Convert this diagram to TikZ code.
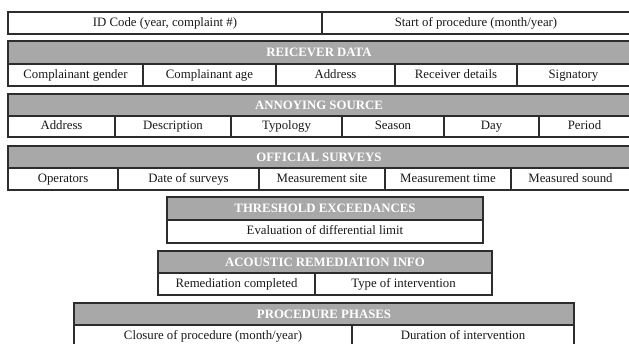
\documentclass[tikz,border=0pt]{standalone}
\usepackage{fontspec}
\setmainfont{Liberation Serif}
\usepackage{tikz}
\usetikzlibrary{positioning}
\definecolor{hdrGray}{RGB}{168, 168, 168}
\definecolor{lineDark}{RGB}{45, 45, 45}
\definecolor{txtDark}{RGB}{25, 25, 25}

\begin{document}
\begin{tikzpicture}[x=1pt, y=-1pt,
    hdr/.style={draw=lineDark, line width=1.1pt, fill=hdrGray, text=white, inner sep=0pt,
      text height=8.6pt, text depth=0pt,
      font=\fontsize{12.8}{12.8}\selectfont\bfseries, minimum height=22pt},
    cell/.style={draw=lineDark, line width=1.1pt, fill=white, text=txtDark, inner sep=0pt,
      text height=9pt, text depth=3pt,
      font=\fontsize{12.8}{12.8}\selectfont, minimum height=22pt}]
      \useasboundingbox (0,0) rectangle (629,343);

      % top line
      \node[cell, minimum width=314pt] (idcode) at (165,23) {ID Code (year, complaint \#)};
      \node[cell, minimum width=308pt] (start) at (476,23) {Start of procedure (month/year)};

      % receiver
      \node[hdr, minimum width=622pt, minimum height=23pt] (recHdr) at (319,52.5) {REICEVER DATA};
      \node[cell, minimum width=135pt] (recGender) at (75.5,75) {Complainant gender};
      \node[cell, minimum width=133pt] (recAge) at (209.5,75) {Complainant age};
      \node[cell, minimum width=119pt] (recAddr) at (335.5,75) {Address};
      \node[cell, minimum width=122pt] (recDet) at (456,75) {Receiver details};
      \node[cell, minimum width=113pt] (recSign) at (573.5,75) {Signatory};

      % source
      \node[hdr, minimum width=622pt] (srcHdr) at (319,105) {ANNOYING SOURCE};
      \node[cell, minimum width=107pt, minimum height=21pt] (srcAddr) at (61.5,126.5) {Address};
      \node[cell, minimum width=116pt, minimum height=21pt] (srcDesc) at (173,126.5) {Description};
      \node[cell, minimum width=111pt, minimum height=21pt] (srcTyp) at (286.5,126.5) {Typology};
      \node[cell, minimum width=102pt, minimum height=21pt] (srcSeas) at (393,126.5) {Season};
      \node[cell, minimum width=95pt, minimum height=21pt] (srcDay) at (491.5,126.5) {Day};
      \node[cell, minimum width=91pt, minimum height=21pt] (srcPer) at (584.5,126.5) {Period};

      % surveys
      \node[hdr, minimum width=622pt] (survHdr) at (319,157) {OFFICIAL SURVEYS};
      \node[cell, minimum width=110pt] (survOp) at (63,179) {Operators};
      \node[cell, minimum width=141pt] (survDate) at (188.5,179) {Date of surveys};
      \node[cell, minimum width=126pt] (survSite) at (322,179) {Measurement site};
      \node[cell, minimum width=126pt] (survTime) at (448,179) {Measurement time};
      \node[cell, minimum width=119pt] (survSound) at (570.5,179) {Measured sound};

      % threshold
      \node[hdr, minimum width=316pt, minimum height=23pt] (thrHdr) at (325,208.5) {THRESHOLD EXCEEDANCES};
      \node[cell, minimum width=316pt, minimum height=23pt] (thrEval) at (325,231.5) {Evaluation of differential limit};

      % remediation
      \node[hdr, minimum width=334pt] (remHdr) at (325,262) {ACOUSTIC REMEDIATION INFO};
      \node[cell, minimum width=157pt] (remDone) at (236.5,284) {Remediation completed};
      \node[cell, minimum width=177pt] (remType) at (403.5,284) {Type of intervention};

      % phases
      \node[hdr, minimum width=500pt] (phHdr) at (324,314) {PROCEDURE PHASES};
      \node[cell, minimum width=278pt] (phClose) at (213,336) {Closure of procedure (month/year)};
      \node[cell, minimum width=222pt] (phDur) at (463,336) {Duration of intervention};
    \end{tikzpicture}
\end{document}
